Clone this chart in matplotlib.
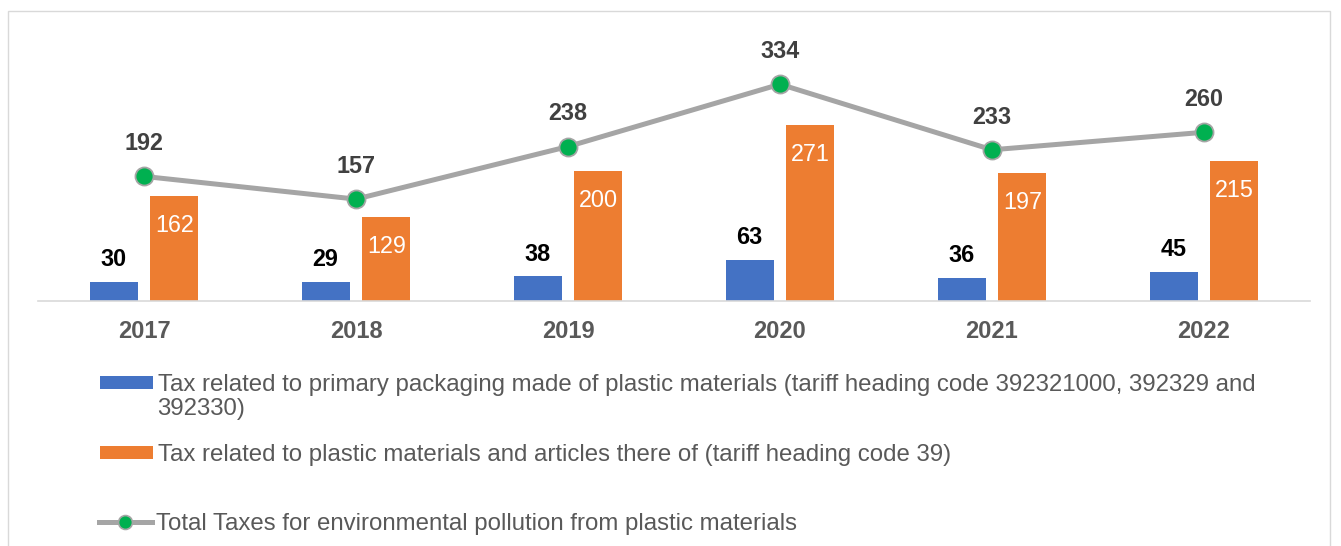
import matplotlib
matplotlib.use("Agg")
import matplotlib.pyplot as plt
from matplotlib.patches import Rectangle, Patch
from matplotlib.lines import Line2D
import numpy as np

plt.rcParams['font.family'] = ['Liberation Sans', 'DejaVu Sans']

years = ['2017', '2018', '2019', '2020', '2021', '2022']
packaging_tax = [30, 29, 38, 63, 36, 45]
plastic_tax = [162, 129, 200, 271, 197, 215]
total_tax = [192, 157, 238, 334, 233, 260]

label_packaging = 'Tax related to primary packaging made of plastic materials (tariff heading code 392321000, 392329 and'
label_packaging_2 = '392330)'
label_plastic = 'Tax related to plastic materials and articles there of (tariff heading code 39)'
label_total = 'Total Taxes for environmental pollution from plastic materials'

blue = '#4472C4'
orange = '#ED7D31'
grey_line = '#A5A5A5'
green = '#00B050'
txt_grey = '#595959'

fig = plt.figure(figsize=(13.41, 5.46), dpi=100)
# outer chart border (bottom runs off the picture)
fig.add_artist(Rectangle((8 / 1341, -0.05), (1330 - 8) / 1341, 1.05 - 11 / 546,
                         transform=fig.transFigure, fill=False, edgecolor='#D9D9D9', lw=1))

ax = fig.add_axes([38 / 1341, 1 - 301 / 546, (1310 - 38) / 1341, (301 - 20) / 546])

x = np.arange(len(years))
w = 0.227
off = 0.143
ax.bar(x - off, packaging_tax, w, color=blue, zorder=2)
ax.bar(x + off, plastic_tax, w, color=orange, zorder=2)
ax.plot(x, total_tax, color=grey_line, lw=3.6, marker='o', markersize=13,
        markerfacecolor=green, markeredgecolor=grey_line, markeredgewidth=1.3, zorder=3)

for xi, v in zip(x, packaging_tax):
    ax.annotate(str(v), (xi - off, v), xytext=(0, 16), textcoords='offset points',
                ha='center', va='center', fontsize=16.8, fontweight='bold', color='black')
for xi, v in zip(x, plastic_tax):
    ax.annotate(str(v), (xi + off, v), xytext=(0, -21), textcoords='offset points',
                ha='center', va='center', fontsize=16.8, color='white')
for xi, v in zip(x, total_tax):
    ax.annotate(str(v), (xi, v), xytext=(0, 23.5), textcoords='offset points',
                ha='center', va='center', fontsize=16.8, fontweight='bold', color='#404040')

ax.set_xlim(-0.5, 5.5)
ax.set_ylim(0, 433)
ax.set_xticks(x)
ax.set_xticklabels(years, fontsize=17, fontweight='bold', color=txt_grey)
ax.tick_params(axis='x', length=0, pad=13.5)
ax.set_yticks([])
for s in ['top', 'left', 'right']:
    ax.spines[s].set_visible(False)
ax.spines['bottom'].set_color('#D9D9D9')
ax.spines['bottom'].set_linewidth(1.2)

# legend entries, one block each
leg_kw = dict(frameon=False, fontsize=17.25, borderpad=0, borderaxespad=0,
              handlelength=2.2, handletextpad=0.2, labelcolor=txt_grey, handleheight=0.5)
h1 = Patch(facecolor=blue, edgecolor='none')
h2 = Patch(facecolor=orange, edgecolor='none')
h3 = Line2D([], [], color=grey_line, lw=3.6, marker='o', markersize=10,
            markerfacecolor=green, markeredgecolor=grey_line, markeredgewidth=1.2)
fig.legend([h1], [label_packaging], loc='upper left',
           bbox_to_anchor=(100 / 1341, 1 - 374 / 546), **leg_kw)
fig.text(157 / 1341, 1 - 409 / 546, label_packaging_2, fontsize=17.25, color=txt_grey,
         ha='left', va='center')
fig.legend([h2], [label_plastic], loc='upper left',
           bbox_to_anchor=(100 / 1341, 1 - 444 / 546), **leg_kw)
fig.legend([h3], [label_total], loc='upper left',
           bbox_to_anchor=(99 / 1341, 1 - 513 / 546), **leg_kw)

fig.savefig('out.png', dpi=100)
